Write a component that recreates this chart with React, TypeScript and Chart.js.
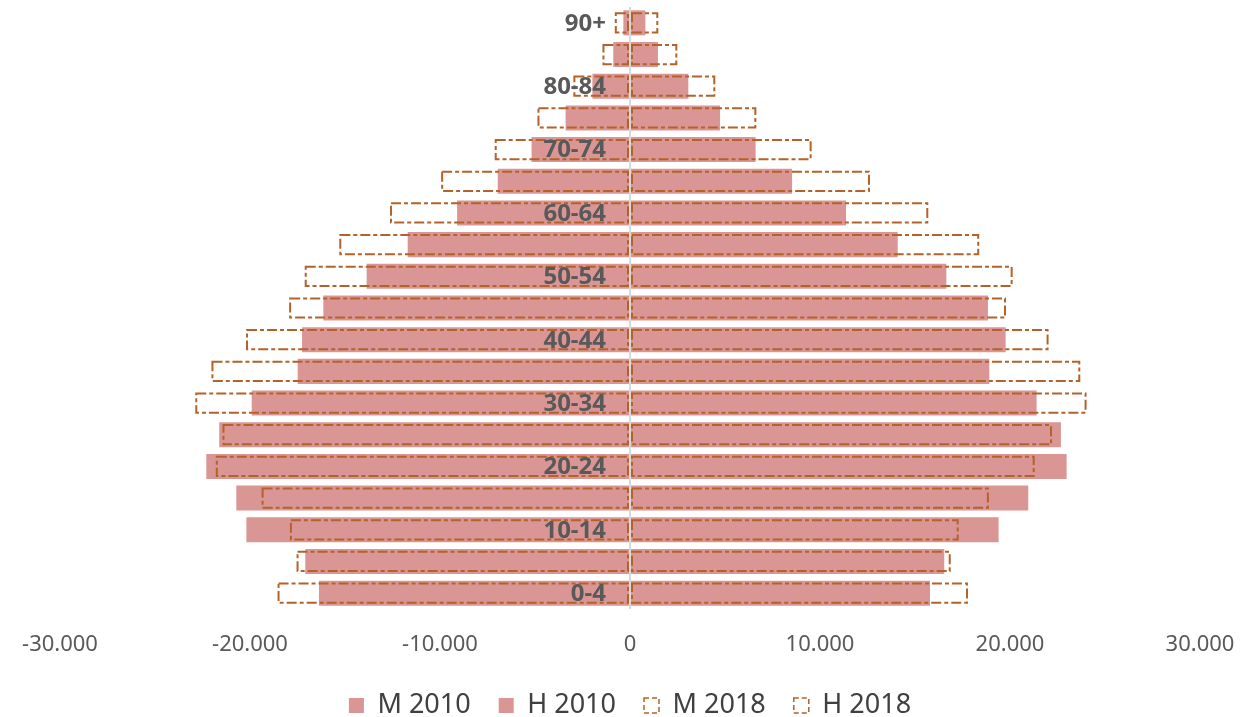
import React, { useEffect, useRef } from 'react';
import { Chart, registerables } from 'chart.js';

Chart.register(...registerables);

// Age groups from bottom (0-4) to top (90+)
const ageGroups = ['0-4', '5-9', '10-14', '15-19', '20-24', '25-29', '30-34', '35-39', '40-44', '45-49', '50-54', '55-59', '60-64', '65-69', '70-74', '75-79', '80-84', '85-89', '90+'];
const shownAgeLabels = ['0-4', '10-14', '20-24', '30-34', '40-44', '50-54', '60-64', '70-74', '80-84', '90+'];

const m2010 = [-16370, -17090, -20190, -20720, -22300, -21620, -19910, -17490, -17260, -16140, -13860, -11700, -9100, -6960, -5180, -3390, -1980, -880, -350];
const h2010 = [15790, 16540, 19400, 20960, 22980, 22680, 21400, 18910, 19770, 18840, 16650, 14090, 11370, 8530, 6610, 4740, 3070, 1470, 810];
const m2018 = [-18550, -17550, -17900, -19390, -21800, -21450, -22880, -22030, -20210, -17940, -17120, -15300, -12630, -9940, -7120, -4870, -2980, -1450, -800];
const h2018 = [17790, 16880, 17300, 18890, 21300, 22210, 24030, 23700, 22030, 19790, 20140, 18380, 15700, 12630, 9560, 6650, 4490, 2490, 1490];

const seriesNames = ['M 2010', 'H 2010', 'M 2018', 'H 2018'];
const xTickValues = [-30000, -20000, -10000, 0, 10000, 20000, 30000];
const xTickLabels = ['-30.000', '-20.000', '-10.000', '0', '10.000', '20.000', '30.000'];

const FILL = '#d99694';
const OUTLINE = '#b5612a';
const FONT = '"Noto Sans", "Open Sans", sans-serif';

const dashedOutlinePlugin = {
  id: 'dashedOutline',
  afterDatasetsDraw(chart: any) {
    const ctx = chart.ctx;
    chart.data.datasets.forEach((ds: any, i: number) => {
      if (!ds.dashedOutline) return;
      const meta = chart.getDatasetMeta(i);
      if (meta.hidden) return;
      ctx.save();
      ctx.strokeStyle = OUTLINE;
      ctx.lineWidth = 2;
      ctx.setLineDash([10, 3, 4, 3]);
      meta.data.forEach((el: any) => {
        const { x, y, base, height } = el.getProps(['x', 'y', 'base', 'height'], true);
        const left = Math.min(x, base);
        const right = Math.max(x, base);
        ctx.strokeRect(left + 1, y - height / 2 + 1, right - left - 2, height - 2);
      });
      ctx.restore();
    });
  },
};

const ageLabelPlugin = {
  id: 'ageLabels',
  afterDraw(chart: any) {
    const { ctx } = chart;
    const xs = chart.scales.x;
    const ys = chart.scales.y;
    const x0 = xs.getPixelForValue(0);
    ctx.save();
    ctx.font = `bold 24px ${FONT}`;
    ctx.fillStyle = '#595959';
    ctx.textAlign = 'right';
    ctx.textBaseline = 'middle';
    ageGroups.forEach((g, i) => {
      if (shownAgeLabels.includes(g)) {
        ctx.fillText(g, x0 - 24, ys.getPixelForValue(i) + 1);
      }
    });
    ctx.restore();
  },
};

export default function App() {
  const canvasRef = useRef<HTMLCanvasElement | null>(null);

  useEffect(() => {
    if (!canvasRef.current) return;
    const chart = new Chart(canvasRef.current, {
      type: 'bar',
      data: {
        labels: ageGroups,
        datasets: [
          { label: seriesNames[0], data: m2010, backgroundColor: FILL, borderWidth: 0, grouped: false, categoryPercentage: 1, barPercentage: 0.79 } as any,
          { label: seriesNames[1], data: h2010, backgroundColor: FILL, borderWidth: 0, grouped: false, categoryPercentage: 1, barPercentage: 0.79 } as any,
          { label: seriesNames[2], data: m2018, backgroundColor: 'rgba(0,0,0,0)', borderWidth: 0, grouped: false, categoryPercentage: 1, barPercentage: 0.67, dashedOutline: true } as any,
          { label: seriesNames[3], data: h2018, backgroundColor: 'rgba(0,0,0,0)', borderWidth: 0, grouped: false, categoryPercentage: 1, barPercentage: 0.67, dashedOutline: true } as any,
        ],
      },
      options: {
        indexAxis: 'y',
        responsive: false,
        animation: false,
        layout: { padding: { top: 7, left: 60, right: 43, bottom: 0 } },
        scales: {
          x: {
            type: 'linear',
            min: -30000,
            max: 30000,
            z: 1,
            afterBuildTicks(scale: any) {
              scale.ticks = xTickValues.map((v) => ({ value: v }));
            },
            afterFit(scale: any) {
              scale.height = 55;
              scale.paddingLeft = 0;
              scale.paddingRight = 0;
            },
            ticks: {
              padding: 23,
              color: '#595959',
              font: { family: FONT, size: 22 },
              maxRotation: 0,
              autoSkip: false,
              callback: (value: any) => {
                const idx = xTickValues.indexOf(Number(value));
                return idx >= 0 ? xTickLabels[idx] : '';
              },
            },
            grid: {
              drawTicks: false,
              lineWidth: 2,
              color: (ctx: any) => (ctx.tick && ctx.tick.value === 0 ? '#d9d9d9' : 'rgba(0,0,0,0)'),
            },
            border: { display: false },
          },
          y: {
            type: 'category',
            reverse: true,
            display: false,
            offset: true,
          },
        },
        plugins: {
          tooltip: { enabled: false },
          legend: {
            position: 'bottom',
            labels: {
              color: '#404040',
              font: { family: FONT, size: 27 },
              boxWidth: 15,
              boxHeight: 15,
              padding: 28,
              generateLabels(chart: any) {
                const items = (Chart.defaults.plugins.legend.labels as any).generateLabels(chart);
                return items.map((it: any, i: number) => {
                  const ds: any = chart.data.datasets[i];
                  if (ds.dashedOutline) {
                    return { ...it, fillStyle: 'rgba(0,0,0,0)', strokeStyle: OUTLINE, lineWidth: 1.5, lineDash: [5, 3] };
                  }
                  return { ...it, fillStyle: FILL, lineWidth: 0 };
                });
              },
            },
          },
        },
      } as any,
      plugins: [dashedOutlinePlugin, ageLabelPlugin],
    });
    return () => chart.destroy();
  }, []);

  return (
    <div style={{ position: 'fixed', top: 0, left: 0, width: 1243, height: 717, overflow: 'hidden', background: '#fff' }}>
      <canvas ref={canvasRef} width={1243} height={729} style={{ display: 'block' }} />
    </div>
  );
}
